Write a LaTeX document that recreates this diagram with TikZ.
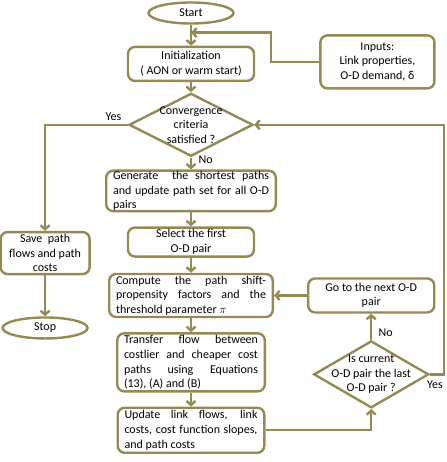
\documentclass[tikz,border=0pt]{standalone}
\usepackage{fontspec}
\setmainfont{Carlito}
\usepackage{amsmath,amssymb}
\usepackage{tikz}
\usetikzlibrary{shapes,arrows.meta,positioning,calc}
\definecolor{FlowOlive}{RGB}{148, 138, 84}

\begin{document}
\begin{tikzpicture}[node distance=14pt, auto]
  \tikzstyle{txt} = [font=\fontsize{12pt}{14.6pt}\selectfont, text=black]
  \tikzstyle{block} = [txt, rectangle, draw=FlowOlive, fill=white, align=center, rounded corners=7pt, line width=2.4pt, inner sep=0.5pt]
  \tikzstyle{jblock} = [block, align=justify, inner xsep=6.8pt]
  \tikzstyle{term} = [txt, ellipse, draw=FlowOlive, fill=white, minimum width=85pt, minimum height=21pt, inner sep=0pt, line width=2.4pt]
  \tikzstyle{decision} = [diamond, draw=FlowOlive, fill=white, inner sep=0pt, line width=2.4pt]
  \tikzstyle{line} = [draw=FlowOlive, -{Straight Barb[length=4pt,width=9pt]}, line width=2.4pt]
  \tikzstyle{tag} = [txt]

  \useasboundingbox (0pt,0pt) rectangle (446pt,-462pt);

  \node [term] (start) at (191pt,-13pt) {Start};
  \node [block, below=21pt of start, minimum width=126pt, minimum height=34pt] (init) {Initialization\\( AON or warm start)};
  \node [block, right=64pt of init, yshift=2pt, minimum width=114pt, minimum height=53pt] (inputs) {Inputs:\\Link properties,\\O-D demand, δ};
  \node [decision, below=10pt of init, minimum width=124pt, minimum height=63pt,
         label={[txt, align=center]center:Convergence\\criteria\\satisfied ?}] (conv) {};
  \node [jblock, below=12pt of conv, text width=156pt, minimum height=40pt] (gen) {Generate\ \ the shortest paths\linebreak and update path set for all O-D\linebreak pairs};
  \node [block, below=of gen, minimum width=126pt, minimum height=29pt] (select) {Select the first\\O-D pair};
  \node [jblock, below=15pt of select, text width=150pt, minimum height=43pt] (compute) {Compute the path shift-\linebreak propensity factors and the\linebreak threshold parameter $\pi$};
  \node [jblock, below=of compute, text width=134pt, minimum height=58pt] (transfer) {Transfer flow between\linebreak costlier and cheaper cost\linebreak paths using Equations\linebreak (13), (A) and (B)};
  \node [jblock, below=of transfer, text width=133pt, minimum height=45pt] (update) {Update link flows, link\linebreak costs, cost function slopes,\linebreak and path costs};

  \node [block, left=36pt of select, yshift=-11pt, minimum width=89pt, minimum height=42pt] (save) {Save\ \ path\\flows and path\\costs};
  \node [term, below=41pt of save] (stop) {Stop};

  \node [block, right=33pt of compute, minimum width=126pt, minimum height=34pt] (next) {Go to the next O-D\\pair};
  \node [decision, below=26pt of next, minimum width=115pt, minimum height=67pt,
         label={[txt, align=center]center:Is current\\O-D pair the last\\O-D pair ?}] (last) {};

  \coordinate (join) at ($(start.south)!0.38!(init.north)$);

  \path [line] (start) -- (init);
  \path [line] (inputs.west) -- ++(-48pt,0) |- (join);
  \path [line] (init) -- (conv);
  \path [line] (conv.west) node [tag, above left, xshift=-2pt] {Yes} -| (save);
  \path [line] (conv) -- node [tag, right, pos=0.15, xshift=3pt] {No} (gen);
  \path [line] (gen) -- (select);
  \path [line] (select) -- (compute);
  \path [line] (compute) -- (transfer);
  \path [line] (transfer) -- (update);
  \path [line] (save) -- (stop);
  \path [line] (update.east) -| (last.south);
  \path [line] (last.north) -- node [tag, right, pos=0.25, xshift=3pt] {No} (next);
  \path [line] (next.west) -- (compute.east);
  \path [line] (last.east) -- node [tag, below, xshift=-2pt, yshift=-2pt] {Yes} ++(14pt,0) |- (conv.east);
\end{tikzpicture}
\end{document}
